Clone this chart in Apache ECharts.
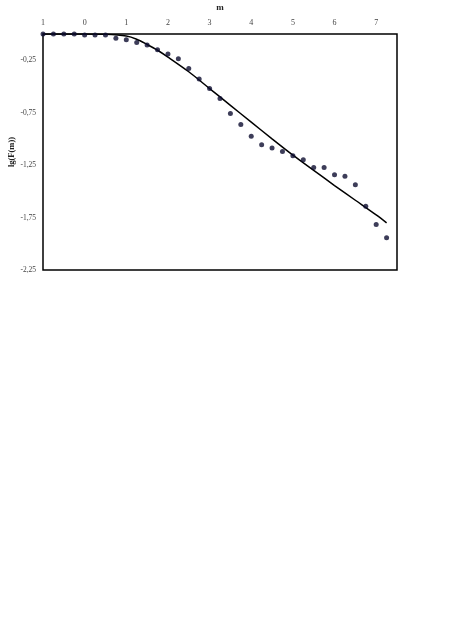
<!DOCTYPE html>
<html>
<head>
<meta charset="utf-8">
<script src="https://cdn.jsdelivr.net/npm/echarts@6/dist/echarts.min.js"></script>
<style>
  html, body { margin: 0; padding: 0; background: #fff; }
  #chart { width: 452px; height: 640px; }
</style>
</head>
<body>
<div id="chart"></div>
<script>
// measured points, m = -1 .. 7.25 step 0.25
const mValues = [-1, -0.75, -0.5, -0.25, 0, 0.25, 0.5, 0.75, 1, 1.25, 1.5, 1.75, 2, 2.25, 2.5, 2.75,
  3, 3.25, 3.5, 3.75, 4, 4.25, 4.5, 4.75, 5, 5.25, 5.5, 5.75, 6, 6.25, 6.5, 6.75, 7, 7.25]
const lgF = [0, 0, 0, 0, -0.01, -0.01, -0.01, -0.04, -0.055, -0.08, -0.105, -0.15, -0.19, -0.235, -0.33, -0.43,
  -0.52, -0.615, -0.757, -0.864, -0.974, -1.055, -1.088, -1.12, -1.16, -1.198, -1.273, -1.273, -1.341, -1.356, -1.437, -1.642, -1.817, -1.943]

// fitted curve
const curveM = [-1, 0, 0.5, 1, 1.25, 1.5, 1.75, 2, 2.5, 3, 3.5, 4, 4.5, 5, 5.5, 6, 6.5, 7, 7.25]
const curveLgF = [0, 0, -0.003, -0.02, -0.05, -0.1, -0.155, -0.22, -0.36, -0.52, -0.68, -0.84, -1.0, -1.155, -1.3, -1.445, -1.585, -1.725, -1.8]

// tick labels as printed on the top axis
const xTickLabels = { '-1': '1', '0': '0', '1': '1', '2': '2', '3': '3', '4': '4', '5': '5', '6': '6', '7': '7' }

const chart = echarts.init(document.getElementById('chart'))

const font = 'Liberation Serif'

const option = {
  backgroundColor: '#fff',
  animation: false,
  grid: {
    left: 43,
    top: 34,
    right: 55,
    bottom: 370,
    containLabel: false,
    outerBoundsMode: 'none',
    show: true,
    borderColor: '#000',
    borderWidth: 1.5
  },
  xAxis: {
    type: 'value',
    position: 'top',
    min: -1,
    max: 7.5,
    interval: 1,
    name: 'm',
    nameLocation: 'middle',
    nameGap: 21.5,
    nameMoveOverlap: false,
    nameTextStyle: { fontFamily: font, fontSize: 9, fontWeight: 'bold', color: '#222' },
    axisLine: { show: false },
    axisTick: { show: false },
    splitLine: { show: false },
    axisLabel: {
      fontFamily: font,
      fontSize: 8,
      color: '#444',
      margin: 7,
      showMaxLabel: false,
      formatter: function (v) {
        const key = String(Math.round(v * 100) / 100)
        return xTickLabels[key] !== undefined ? xTickLabels[key] : ''
      }
    }
  },
  yAxis: {
    type: 'value',
    min: -2.25,
    max: 0,
    interval: 0.5,
    name: 'lg(F(m))',
    nameLocation: 'middle',
    nameGap: 27,
    nameMoveOverlap: false,
    nameTextStyle: { fontFamily: font, fontSize: 8.5, fontWeight: 'bold', color: '#222' },
    axisLine: { show: false },
    axisTick: { show: false },
    splitLine: { show: false },
    axisLabel: {
      fontFamily: font,
      fontSize: 7.5,
      color: '#444',
      margin: 7,
      showMaxLabel: false,
      formatter: function (v) {
        if (Math.abs(v) < 1e-9) return ''
        return v.toFixed(2).replace('.', ',')
      }
    }
  },
  series: [{
    name: 'fit',
    type: 'line',
    smooth: 0.3,
    showSymbol: false,
    lineStyle: { color: '#000', width: 1.5 },
    data: curveM.map((m, i) => [m, curveLgF[i]]),
    z: 2
  }, {
    name: 'data',
    type: 'scatter',
    symbol: 'circle',
    symbolSize: 5,
    itemStyle: { color: '#0c0c30' },
    data: mValues.map((m, i) => [m, lgF[i]]),
    z: 3
  }]
}

chart.setOption(option)
</script>
</body>
</html>
